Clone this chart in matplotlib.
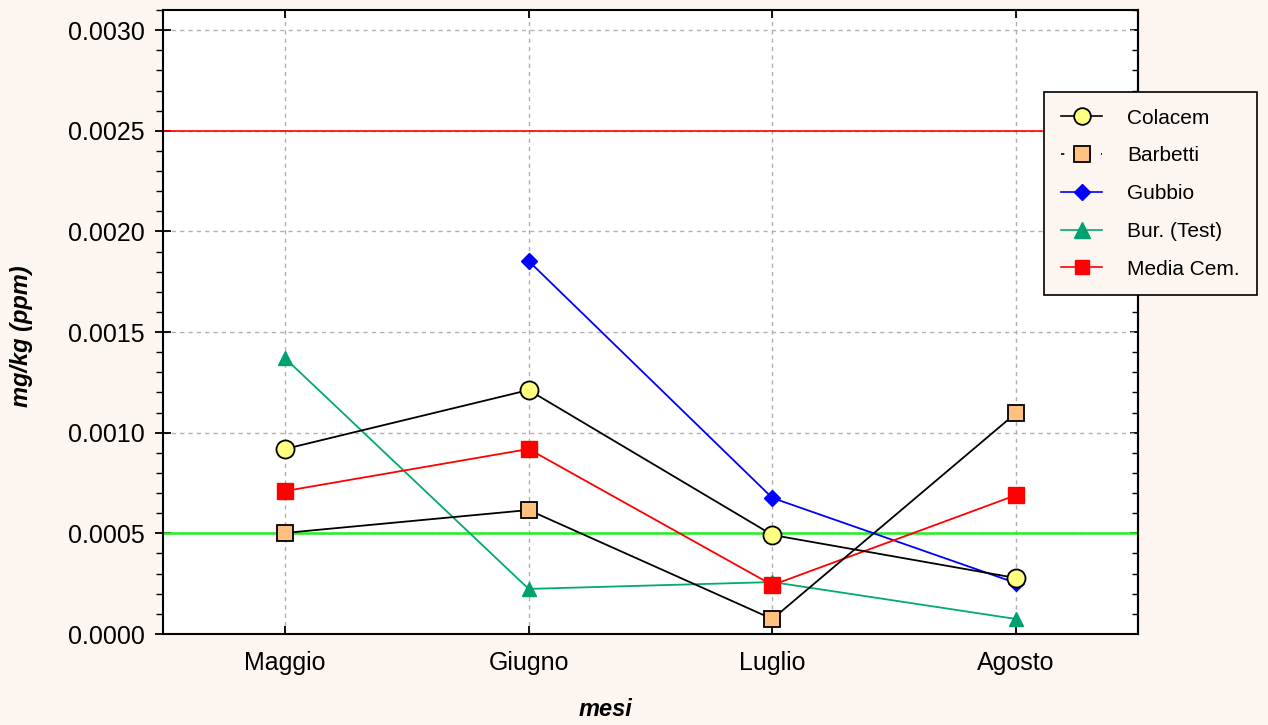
import matplotlib.pyplot as plt
from matplotlib.lines import Line2D
from matplotlib.ticker import MultipleLocator, FormatStrFormatter, NullFormatter
import numpy as np

plt.rcParams['font.family'] = ['Liberation Sans', 'DejaVu Sans']

mesi = ['Maggio', 'Giugno', 'Luglio', 'Agosto']
colacem = [0.000919, 0.001212, 0.000492, 0.000278]
barbetti = [0.000502, 0.000616, 0.0000745, 0.001098]
gubbio = [np.nan, 0.001853, 0.000676, 0.000253]
bur_test = [0.001371, 0.000224, 0.000258, 0.0000745]
media_cem = [0.00071, 0.000919, 0.000243, 0.00069]
limite_alto = 0.0025
limite_basso = 0.0005

bg = '#fdf6f0'
fig = plt.figure(figsize=(12.68, 7.25), dpi=100, facecolor=bg)
ax = fig.add_axes([163 / 1268, 1 - 634 / 725, (1138 - 163) / 1268, (634 - 10) / 725])
ax.set_facecolor('white')

x = np.arange(len(mesi))

ax.axhline(limite_alto, color='#ff0000', lw=1.2, zorder=2)
ax.axhline(limite_basso, color='#22ee22', lw=1.8, zorder=2)

ax.plot(x, bur_test, '-^', color='#00aa70', mfc='#00a070', mec='#00a070', ms=10, lw=1.3, zorder=3)
ax.plot(x, gubbio, '-D', color='#0000ff', mfc='#0000ff', mec='#0000ff', ms=8, lw=1.3, zorder=4)
ax.plot(x, media_cem, '-s', color='#ff0000', mfc='#ff0000', mec='#ff0000', ms=11, lw=1.3, zorder=4)
ax.plot(x, barbetti, '-s', color='black', mfc='#ffc080', mec='black', mew=1.3, ms=11, lw=1.3, zorder=4)
ax.plot(x, colacem, '-o', color='black', mfc='#ffff80', mec='black', mew=1.3, ms=13, lw=1.3, zorder=4)

ax.set_xlim(-0.5, 3.5)
ax.set_ylim(0, 0.0031)
ax.set_xticks(x)
ax.set_xticklabels(mesi, fontsize=18)
ax.yaxis.set_major_locator(MultipleLocator(0.0005))
ax.yaxis.set_minor_locator(MultipleLocator(0.0001))
ax.yaxis.set_major_formatter(FormatStrFormatter('%.4f'))
ax.tick_params(axis='y', which='major', direction='inout', length=12, width=1.3, labelsize=18, pad=7)
ax.tick_params(axis='y', which='minor', direction='out', length=5, width=1)
ax.tick_params(axis='x', which='major', direction='in', length=6, width=1.3, top=True, pad=12)

# right side ticks point inward
sec = ax.secondary_yaxis('right')
sec.yaxis.set_major_locator(MultipleLocator(0.0005))
sec.yaxis.set_minor_locator(MultipleLocator(0.0001))
sec.yaxis.set_major_formatter(NullFormatter())
sec.tick_params(which='major', direction='in', length=6, width=1.3)
sec.tick_params(which='minor', direction='in', length=4, width=1)
sec.spines['right'].set_linewidth(1.5)

for side in ['left', 'right', 'top', 'bottom']:
    ax.spines[side].set_linewidth(1.5)
ax.grid(True, linestyle=(0, (3, 3)), color='#b0b0b0', lw=1)
ax.set_axisbelow(True)

ax.set_xlabel('mesi', fontsize=17, fontweight='bold', style='italic')
ax.xaxis.set_label_coords((606 - 163) / 975, -(698 - 634) / 624, transform=ax.transAxes)
ax.set_ylabel('mg/kg (ppm)', fontsize=17, fontweight='bold', style='italic')
ax.yaxis.set_label_coords(-(163 - 33) / 975, (634 - 336) / 624, transform=ax.transAxes)

handles = [
    Line2D([], [], color='black', marker='o', mfc='#ffff80', mec='black', mew=1.3, ms=12, lw=1.2),
    Line2D([], [], color='black', ls=(0, (2, 6)), marker='s', mfc='#ffc080', mec='black', mew=1.3, ms=11, lw=1.2),
    Line2D([], [], color='#0000ff', marker='D', mfc='#0000ff', mec='#0000ff', ms=8, lw=1.2),
    Line2D([], [], color='#00aa70', marker='^', mfc='#00a070', mec='#00a070', ms=11, lw=1.2),
    Line2D([], [], color='#ff0000', marker='s', mfc='#ff0000', mec='#ff0000', ms=10, lw=1.2),
]
labels = ['Colacem', 'Barbetti', 'Gubbio', 'Bur. (Test)', 'Media Cem.']
leg = fig.legend(handles, labels, loc='upper left', bbox_to_anchor=(1044 / 1268, 1 - 92 / 725),
                 borderaxespad=0, fontsize=15, frameon=True, fancybox=False, edgecolor='black',
                 facecolor=bg, framealpha=1, handlelength=2.0, handletextpad=1.2,
                 labelspacing=0.9, borderpad=0.8)
leg.get_frame().set_linewidth(1.2)

fig.savefig('out.png', dpi=100, facecolor=bg)
